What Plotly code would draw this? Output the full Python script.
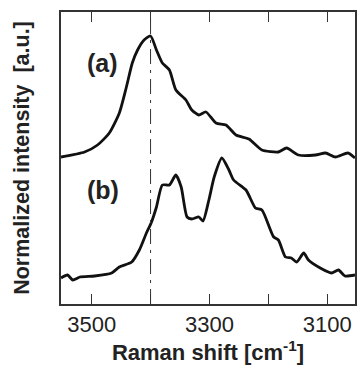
import plotly.graph_objects as go

# Spectrum (a)
wn_a = [3552, 3512, 3490, 3470, 3453, 3441, 3431, 3422, 3411, 3400, 3390, 3380, 3368, 3357,
        3340, 3330, 3318, 3306, 3289, 3272, 3255, 3233, 3211, 3183, 3169, 3149, 3120, 3103,
        3086, 3065, 3053]
int_a = [147, 152, 159, 171, 191, 217, 241, 254, 264, 268, 254, 241, 234, 214,
         204, 194, 189, 192, 181, 179, 169, 165, 154, 152, 156, 149, 149, 151,
         147, 151, 146]

# Spectrum (b)
wn_b = [3552, 3541, 3532, 3520, 3495, 3466, 3453, 3432, 3419, 3407, 3399, 3390, 3380, 3368,
        3357, 3348, 3338, 3330, 3318, 3311, 3301, 3292, 3279, 3267, 3259, 3238, 3222, 3211,
        3191, 3183, 3171, 3161, 3152, 3140, 3132, 3112, 3093, 3081, 3070, 3053]
int_b = [26, 29, 24, 27, 28, 31, 37, 42, 54, 71, 81, 97, 119, 119,
         129, 117, 87, 85, 87, 83, 104, 127, 146, 134, 124, 114, 96, 94,
         67, 64, 47, 46, 42, 51, 44, 36, 31, 34, 28, 29]

tick_vals = [3500, 3400, 3300, 3200, 3100]
tick_text = ["3500", "", "3300", "", "3100"]
marker_wn = 3400

FONT = "Liberation Sans, Arial, sans-serif"

fig = go.Figure()
fig.add_trace(go.Scatter(x=wn_a, y=int_a, mode="lines",
                         line=dict(color="#111", width=2.8, shape="spline", smoothing=0.6),
                         showlegend=False))
fig.add_trace(go.Scatter(x=wn_b, y=int_b, mode="lines",
                         line=dict(color="#111", width=2.8, shape="spline", smoothing=0.6),
                         showlegend=False))

fig.add_shape(type="line", xref="x", yref="paper", x0=marker_wn, x1=marker_wn, y0=0, y1=1,
              line=dict(color="#333", width=1, dash="longdashdot"))

fig.add_annotation(text="<b>(a)</b>", xref="paper", yref="paper", x=0.081, y=0.88,
                   showarrow=False, font=dict(family=FONT, size=25, color="#222"))
fig.add_annotation(text="<b>(b)</b>", xref="paper", yref="paper", x=0.081, y=0.39,
                   showarrow=False, font=dict(family=FONT, size=25, color="#222"))

fig.update_layout(
    width=359, height=370,
    margin=dict(l=61, r=2, t=12, b=66),
    paper_bgcolor="white", plot_bgcolor="white",
    font=dict(family=FONT, color="#222"),
)
fig.update_xaxes(
    range=[3552, 3053], tickvals=tick_vals, ticktext=tick_text,
    ticks="inside", ticklen=10, tickwidth=1.2, tickcolor="#333",
    showline=True, linecolor="#333", linewidth=1.5, mirror="allticks",
    showgrid=False, zeroline=False,
    tickfont=dict(family=FONT, size=22, color="#222"),
    title=dict(text="<b>Raman shift [cm<sup>-1</sup>]</b>", standoff=8,
               font=dict(family=FONT, size=22, color="#222")),
)
fig.update_yaxes(
    range=[0, 292], showticklabels=False, ticks="",
    showline=True, linecolor="#333", linewidth=1.5, mirror=True,
    showgrid=False, zeroline=False,
    title=dict(text="<b>Normalized intensity  [a.u.]</b>", standoff=24,
               font=dict(family=FONT, size=21.5, color="#222")),
)

fig.write_html("out.html")
